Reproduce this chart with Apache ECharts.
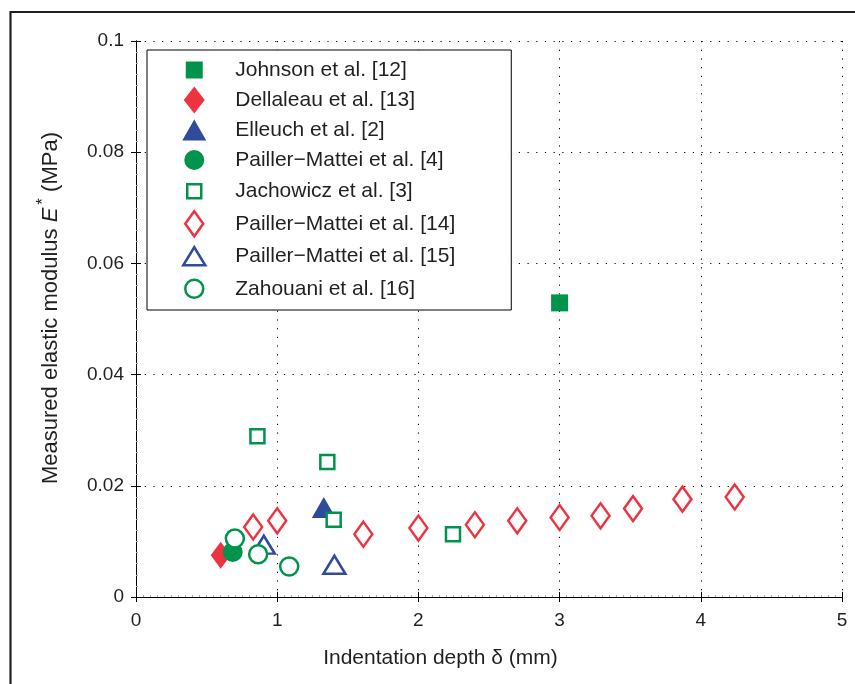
<!DOCTYPE html>
<html>
<head>
<meta charset="utf-8">
<script src="https://cdn.jsdelivr.net/npm/echarts@6/dist/echarts.min.js"></script>
<style>
html,body{margin:0;padding:0;background:#fff;}
#chart{width:855px;height:684px;}
</style>
</head>
<body>
<div id="chart"></div>
<script>
// ---- data ----
var seriesNames = [
  'Johnson et al. [12]',
  'Dellaleau et al. [13]',
  'Elleuch et al. [2]',
  'Pailler\u2212Mattei et al. [4]',
  'Jachowicz et al. [3]',
  'Pailler\u2212Mattei et al. [14]',
  'Pailler\u2212Mattei et al. [15]',
  'Zahouani et al. [16]'
];
var johnsonX = [3.0];
var johnsonY = [0.0529];
var dellaleauX = [0.60];
var dellaleauY = [0.0075];
var elleuchX = [1.33];
var elleuchY = [0.0161];
var pm4X = [0.685];
var pm4Y = [0.0081];
var jachowiczX = [0.86, 1.355, 1.40, 2.245];
var jachowiczY = [0.0289, 0.0243, 0.0139, 0.0113];
var pm14X = [0.83, 1.0, 1.61, 2.0, 2.40, 2.70, 3.0, 3.29, 3.52, 3.87, 4.24];
var pm14Y = [0.0126, 0.0137, 0.0113, 0.0124, 0.0130, 0.0137, 0.0143, 0.0146, 0.0159, 0.0176, 0.0180];
var pm15X = [0.905, 1.405];
var pm15Y = [0.0094, 0.0058];
var zahouaniX = [0.70, 0.865, 1.085];
var zahouaniY = [0.0105, 0.0077, 0.0055];
var xTicks = [0, 1, 2, 3, 4, 5];
var yTickLabels = ['0', '0.02', '0.04', '0.06', '0.08', '0.1'];

function pairs(xs, ys) { return xs.map(function (x, i) { return [x, ys[i]]; }); }

var GREEN = '#00934b', RED = '#ee3340', BLUE = '#2f4b9c';
var FONT = '"Liberation Sans", Arial, Helvetica, sans-serif';
var TXT = '#231f20';
var FRAME = 'M0,0 M72,30 ';

var specs = [
  {x: johnsonX, y: johnsonY, symbol: 'rect', size: 17, fill: GREEN, stroke: GREEN, bw: 0,
   icon: 'M27.5,6.5 L44.5,6.5 L44.5,23.5 L27.5,23.5 Z'},
  {x: dellaleauX, y: dellaleauY, symbol: 'diamond', size: [20, 27], fill: RED, stroke: RED, bw: 0,
   icon: 'M36,1.5 L46.5,15 L36,28.5 L25.5,15 Z'},
  {x: elleuchX, y: elleuchY, symbol: 'triangle', size: [24, 21], fill: BLUE, stroke: BLUE, bw: 0,
   icon: 'M36,4.5 L48,25.5 L24,25.5 Z'},
  {x: pm4X, y: pm4Y, symbol: 'circle', size: 20, fill: GREEN, stroke: GREEN, bw: 0,
   icon: 'M26,15 A10,10 0 1,0 46,15 A10,10 0 1,0 26,15 Z'},
  {x: jachowiczX, y: jachowiczY, symbol: 'rect', size: 14, fill: '#fff', stroke: GREEN, bw: 2.5,
   icon: 'M29,8 L43,8 L43,22 L29,22 Z'},
  {x: pm14X, y: pm14Y, symbol: 'diamond', size: [18, 25], fill: '#fff', stroke: RED, bw: 2.5,
   icon: 'M36,2.5 L45,15 L36,27.5 L27,15 Z'},
  {x: pm15X, y: pm15Y, symbol: 'triangle', size: [22, 18], fill: '#fff', stroke: BLUE, bw: 2.5,
   icon: 'M36,6 L47,24 L25,24 Z'},
  {x: zahouaniX, y: zahouaniY, symbol: 'circle', size: 18, fill: '#fff', stroke: GREEN, bw: 2.5,
   icon: 'M27,15 A9,9 0 1,0 45,15 A9,9 0 1,0 27,15 Z'}
];

var series = specs.map(function (s, i) {
  return {
    name: seriesNames[i],
    type: 'scatter',
    xAxisIndex: 0, yAxisIndex: 0,
    symbol: s.symbol,
    symbolSize: s.size,
    data: pairs(s.x, s.y),
    itemStyle: {color: s.fill, borderColor: s.stroke, borderWidth: s.bw, opacity: 1},
    emphasis: {disabled: true},
    z: 2 + i
  };
});

var legendData = specs.map(function (s, i) {
  return {
    name: seriesNames[i],
    icon: 'path://' + FRAME + s.icon,
    itemStyle: {color: s.fill, borderColor: s.stroke, borderWidth: s.bw}
  };
});

var gridLine = {show: true, lineStyle: {color: '#000', width: 1, type: [1.2, 7.5]}};
var axisLine = {show: true, lineStyle: {color: '#000', width: 1}};
var tick = {show: true, inside: true, length: 5, lineStyle: {color: '#000', width: 1}};

var chart = echarts.init(document.getElementById('chart'), null, {renderer: 'canvas'});
chart.setOption({
  backgroundColor: '#fff',
  animation: false,
  textStyle: {fontFamily: FONT},
  grid: {left: 136, right: 13, top: 41, bottom: 87, containLabel: false},
  xAxis: [{
    type: 'value', min: xTicks[0], max: xTicks[xTicks.length - 1], interval: 1, position: 'bottom',
    axisLine: axisLine, axisTick: tick, splitLine: gridLine,
    minorTick: {show: true, splitNumber: 20, length: 2, lineStyle: {color: '#aaa', width: 1}},
    axisLabel: {fontSize: 19, color: TXT, fontFamily: FONT, margin: 14},
    name: 'Indentation depth \u03b4 (mm)', nameLocation: 'middle', nameGap: 51,
    nameTextStyle: {fontSize: 21, color: TXT, fontFamily: FONT, padding: [0, 97, 0, 0]}
  }, {
    type: 'value', min: xTicks[0], max: xTicks[xTicks.length - 1], interval: 1, position: 'top',
    axisLine: axisLine, axisTick: tick, splitLine: {show: false}, axisLabel: {show: false}
  }],
  yAxis: [{
    type: 'value', min: 0, max: 0.1, interval: 0.02, position: 'left',
    axisLine: axisLine, axisTick: tick, splitLine: gridLine,
    minorTick: {show: true, splitNumber: 10, length: 2, lineStyle: {color: '#aaa', width: 1}},
    axisLabel: {fontSize: 19, color: TXT, fontFamily: FONT, margin: 12,
      formatter: function (v) { return yTickLabels[Math.round(v / 0.02)]; }},
    name: 'Measured elastic modulus {i|E}{sup|*} (MPa)', nameLocation: 'middle', nameGap: 70,
    nameTextStyle: {fontSize: 22, color: TXT, fontFamily: FONT, padding: [0, 0, 0, 22],
      rich: {
        i: {fontSize: 22, fontStyle: 'italic', color: TXT, fontFamily: FONT},
        sup: {fontSize: 17, color: TXT, fontFamily: FONT, padding: [0, 0, 14, 3]}
      }}
  }, {
    type: 'value', min: 0, max: 0.1, interval: 0.02, position: 'right',
    axisLine: axisLine, axisTick: tick, splitLine: {show: false}, axisLabel: {show: false}
  }],
  legend: {
    show: true, orient: 'vertical', left: 147, top: 50,
    padding: [5, 56, 5, 10],
    itemWidth: 72, itemHeight: 30, itemGap: 0,
    borderColor: '#000', borderWidth: 1, backgroundColor: '#fff',
    selectedMode: false,
    textStyle: {fontSize: 21, color: TXT, fontFamily: FONT},
    data: legendData,
    z: 20
  },
  graphic: [{
    type: 'polyline', silent: true, z: 100,
    shape: {points: [[860, 12], [10.5, 12], [10.5, 690]]},
    style: {stroke: '#231f20', lineWidth: 2.2, fill: null}
  }],
  series: series
});
</script>
</body>
</html>
